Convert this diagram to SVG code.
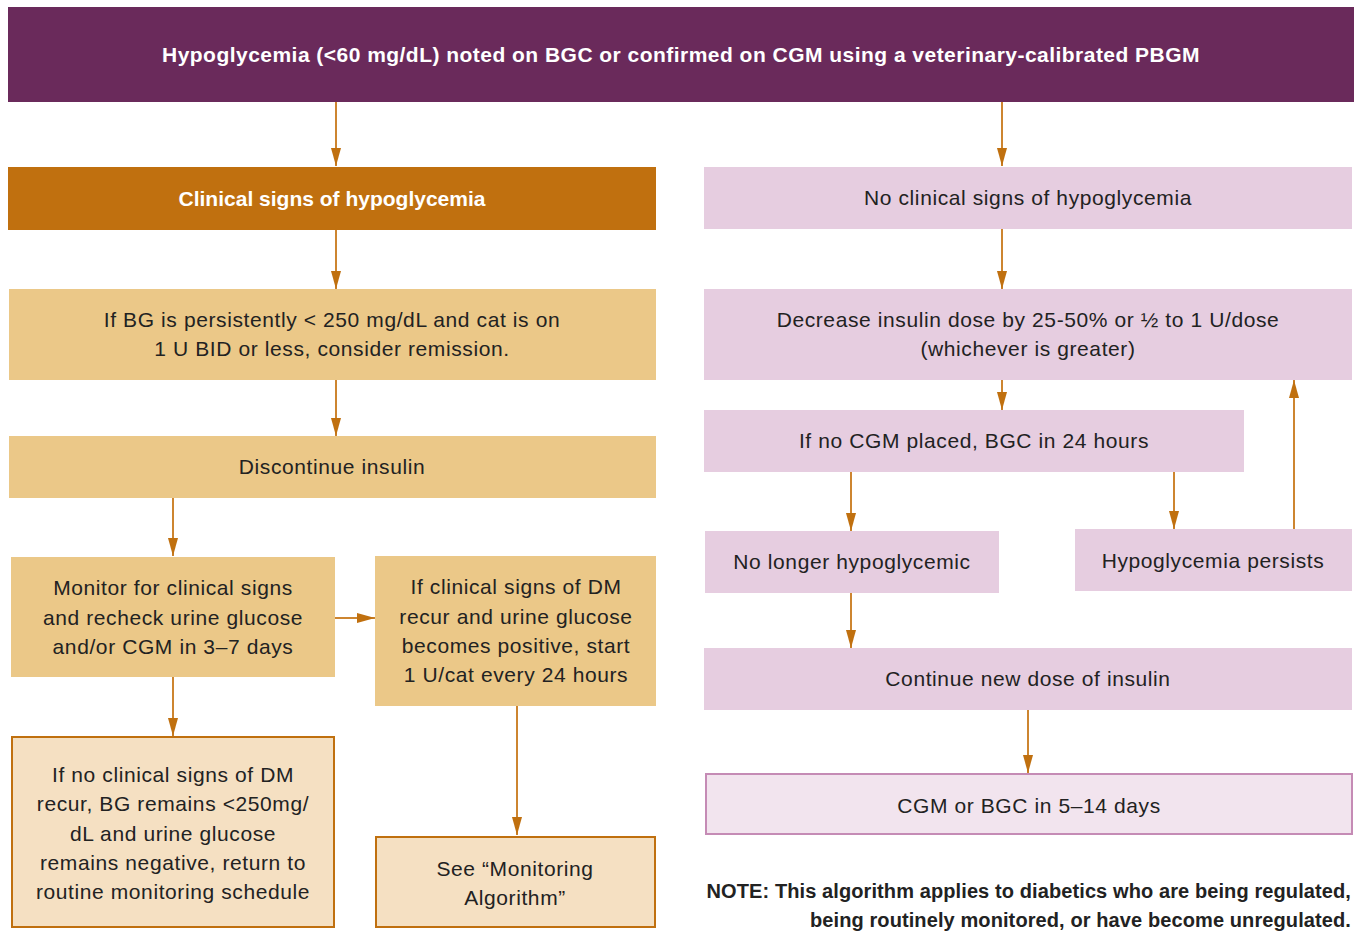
<svg xmlns="http://www.w3.org/2000/svg" width="1356" height="932" viewBox="0 0 1356 932">
<defs>
<marker id="ah" viewBox="0 0 18 10" refX="18" refY="5" markerWidth="18" markerHeight="10" markerUnits="userSpaceOnUse" orient="auto">
<path d="M0,0 L18,5 L0,10 Z" fill="#c0700f"/>
</marker>
<style>
text{font-family:"Liberation Sans",Arial,sans-serif;font-size:21px;letter-spacing:0.6px;fill:#222;text-anchor:middle;dominant-baseline:central}
.b{font-weight:bold;letter-spacing:0}
.h{letter-spacing:0.47px}
.n{font-size:20px;letter-spacing:0.1px;text-anchor:end}
.w{fill:#fff}
.org{fill:#ebc888}
.pk{fill:#e6cde0}
.c line{stroke:#cd8530;stroke-width:2;marker-end:url(#ah)}
</style>
</defs>
<rect width="1356" height="932" fill="#fff"/>
<g id="header"><rect x="8" y="7" width="1346" height="95" fill="#6a2a5b"/><text class="b w h" x="681" y="54">Hypoglycemia (&lt;60 mg/dL) noted on BGC or confirmed on CGM using a veterinary-calibrated PBGM</text></g>
<g id="clin"><rect x="8" y="167" width="648" height="63" fill="#c0700f"/><text class="b w" x="332" y="198">Clinical signs of hypoglycemia</text></g>
<g id="noclin"><rect class="pk" x="704" y="167" width="648" height="62"/><text x="1028" y="197">No clinical signs of hypoglycemia</text></g>
<g id="ifbg"><rect class="org" x="9" y="289" width="647" height="91"/><text x="332" y="319">If BG is persistently &lt; 250 mg/dL and cat is on</text><text x="332" y="348">1 U BID or less, consider remission.</text></g>
<g id="disc"><rect class="org" x="9" y="436" width="647" height="62"/><text x="332" y="466">Discontinue insulin</text></g>
<g id="monitor"><rect class="org" x="11" y="557" width="324" height="120"/><text x="173" y="587">Monitor for clinical signs</text><text x="173" y="617">and recheck urine glucose</text><text x="173" y="646">and/or CGM in 3–7 days</text></g>
<g id="recur"><rect class="org" x="375" y="556" width="281" height="150"/><text x="516" y="586">If clinical signs of DM</text><text x="516" y="616">recur and urine glucose</text><text x="516" y="645">becomes positive, start</text><text x="516" y="674">1 U/cat every 24 hours</text></g>
<g id="norecur"><rect x="12" y="737" width="322" height="190" fill="#f5e0c2" stroke="#c0700f" stroke-width="2"/><text x="173" y="774">If no clinical signs of DM</text><text x="173" y="803">recur, BG remains &lt;250mg/</text><text x="173" y="833">dL and urine glucose</text><text x="173" y="862">remains negative, return to</text><text x="173" y="891">routine monitoring schedule</text></g>
<g id="seemon"><rect x="376" y="837" width="279" height="90" fill="#f5e0c2" stroke="#c0700f" stroke-width="2"/><text x="515" y="868">See “Monitoring</text><text x="515" y="897">Algorithm”</text></g>
<g id="decrease"><rect class="pk" x="704" y="289" width="648" height="91"/><text x="1028" y="319">Decrease insulin dose by 25-50% or ½ to 1 U/dose</text><text x="1028" y="348">(whichever is greater)</text></g>
<g id="nocgm"><rect class="pk" x="704" y="410" width="540" height="62"/><text x="974" y="440">If no CGM placed, BGC in 24 hours</text></g>
<g id="nolonger"><rect class="pk" x="705" y="531" width="294" height="62"/><text x="852" y="561">No longer hypoglycemic</text></g>
<g id="persists"><rect class="pk" x="1075" y="529" width="277" height="62"/><text x="1213" y="560">Hypoglycemia persists</text></g>
<g id="continue"><rect class="pk" x="704" y="648" width="648" height="62"/><text x="1028" y="678">Continue new dose of insulin</text></g>
<g id="cgm"><rect x="706" y="774" width="646" height="60" fill="#f2e4ee" stroke="#c58bb5" stroke-width="2"/><text x="1029" y="805">CGM or BGC in 5–14 days</text></g>
<g id="note"><text class="b n" x="1351" y="891">NOTE: This algorithm applies to diabetics who are being regulated,</text><text class="b n" x="1351" y="920">being routinely monitored, or have become unregulated.</text></g>
<g class="c" id="connectors">
<line x1="336" y1="102" x2="336" y2="166"/>
<line x1="1002" y1="102" x2="1002" y2="166"/>
<line x1="336" y1="230" x2="336" y2="289"/>
<line x1="1002" y1="229" x2="1002" y2="289"/>
<line x1="336" y1="380" x2="336" y2="436"/>
<line x1="1002" y1="380" x2="1002" y2="410"/>
<line x1="173" y1="498" x2="173" y2="556"/>
<line x1="335" y1="618" x2="375" y2="618"/>
<line x1="173" y1="677" x2="173" y2="736"/>
<line x1="517" y1="706" x2="517" y2="835"/>
<line x1="851" y1="472" x2="851" y2="531"/>
<line x1="1174" y1="472" x2="1174" y2="529"/>
<line x1="1294" y1="529" x2="1294" y2="380"/>
<line x1="851" y1="593" x2="851" y2="648"/>
<line x1="1028" y1="710" x2="1028" y2="773"/>
</g>
</svg>
